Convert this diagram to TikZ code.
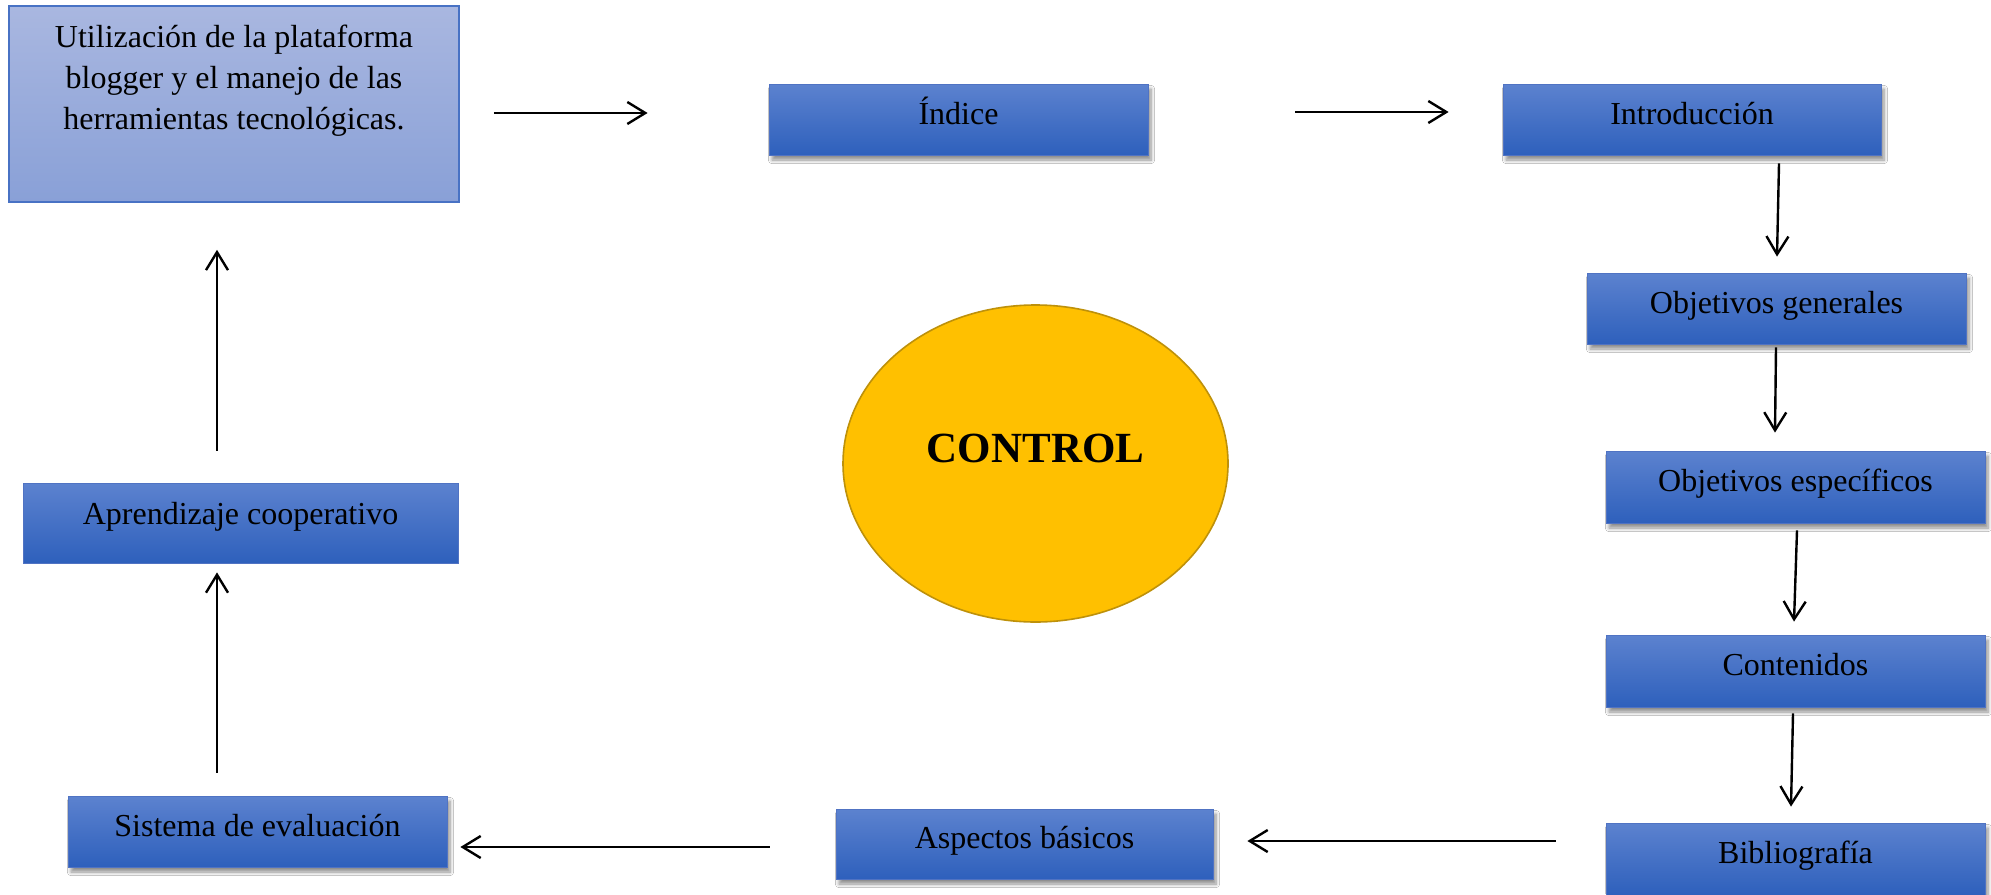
\documentclass[tikz,border=0pt]{standalone}
\usepackage{fontspec}
\setmainfont{Liberation Serif}
\usetikzlibrary{arrows.meta,calc,shapes.geometric,shadows.blur}
\definecolor{bluetop}{RGB}{92,130,207}
\definecolor{bluebot}{RGB}{46,96,188}
\definecolor{blueedge}{RGB}{80,115,195}
\definecolor{lighttop}{RGB}{169,183,224}
\definecolor{lightbot}{RGB}{137,160,215}
\definecolor{lightedge}{RGB}{72,114,196}
\definecolor{ctrlfill}{RGB}{255,192,0}
\definecolor{ctrledge}{RGB}{190,145,10}
\tikzset{
  x=0.5pt, y=-0.5pt,
  bluebox/.style={rectangle, draw=blueedge, line width=0.4pt,
    top color=bluetop, bottom color=bluebot,
    font=\fontsize{16}{20.5}\selectfont, text height=12pt, text depth=7.5pt,
    inner sep=0pt},
  withshadow/.style={blur shadow={shadow xshift=1.5pt, shadow yshift=-2.5pt,
    shadow blur steps=6, shadow opacity=45}},
  lightbox/.style={rectangle, draw=lightedge, line width=0.8pt,
    top color=lighttop, bottom color=lightbot,
    font=\fontsize{16}{20.5}\selectfont, align=center, inner sep=0pt},
  ctrlshape/.style={ellipse, draw=ctrledge, line width=0.8pt, fill=ctrlfill,
    font=\fontsize{21.5}{24}\selectfont\bfseries, inner sep=0pt,
    text height=15pt, text depth=16pt},
  arr/.style={-{Straight Barb[length=9pt,width=11pt,line width=1.2pt]}, line width=1.2pt, black}
}
\begin{document}
\begin{tikzpicture}
\useasboundingbox (0,0) rectangle (1991,894);
\fill[white] (0,0) rectangle (1991,894);

\node[lightbox, minimum width=225pt, minimum height=98pt] (tl) at (234,104)
  {Utilización de la plataforma\\blogger y el manejo de las\\herramientas tecnológicas.\\ \strut};
\node[bluebox, withshadow, minimum width=189.5pt, minimum height=35.5pt] (idx) at (958.5,119.5) {Índice};
\node[bluebox, withshadow, minimum width=189pt, minimum height=35.5pt] (intro) at (1692,119.5) {Introducción};
\node[bluebox, withshadow, minimum width=189.5pt, minimum height=35.5pt] (og) at (1776.5,308.5) {Objetivos generales};
\node[bluebox, withshadow, minimum width=189.5pt, minimum height=36pt] (oe) at (1795.5,487) {Objetivos específicos};
\node[bluebox, withshadow, minimum width=189.5pt, minimum height=36pt] (cont) at (1795.5,671) {Contenidos};
\node[bluebox, withshadow, minimum width=189.5pt, minimum height=36pt] (bib) at (1795.5,859) {Bibliografía};
\node[bluebox, withshadow, minimum width=188.5pt, minimum height=35pt] (asp) at (1024.5,844) {Aspectos básicos};
\node[bluebox, withshadow, minimum width=189.5pt, minimum height=35.5pt] (sis) at (257.5,831.5) {Sistema de evaluación};
\node[bluebox, minimum width=217.5pt, minimum height=40pt, text depth=10.8pt] (apr) at (240.5,523) {Aprendizaje cooperativo};
\node[ctrlshape, minimum width=192.5pt, minimum height=158.5pt] (ctrl) at (1035.5,463.5) {CONTROL};

\draw[arr] ($(tl.east)+(34,9)$) -- ($(idx.west)+(-121,-6.5)$);
\draw[arr] ($(idx.east)+(147,-7.5)$) -- ($(intro.west)+(-54,-7.5)$);
\draw[arr] ($(intro.south)+(87,8)$) -- ($(og.north)+(0.5,-16)$);
\draw[arr] ($(og.south)+(-0.5,3)$) -- ($(oe.north)+(-20.5,-18)$);
\draw[arr] ($(oe.south)+(1.5,7)$) -- ($(cont.north)+(-1.5,-13)$);
\draw[arr] ($(cont.south)+(-2.5,6)$) -- ($(bib.north)+(-4.5,-16)$);
\draw[arr] ($(bib.west)+(-50,-18)$) -- ($(asp.east)+(34,-3)$);
\draw[arr] ($(asp.west)+(-66,3)$) -- ($(sis.east)+(13,15.5)$);
\draw[arr] ($(sis.north)+(-40.5,-23)$) -- ($(apr.south)+(-23.5,9)$);
\draw[arr] ($(apr.north)+(-23.5,-32)$) -- ($(tl.south)+(-17,47)$);
\end{tikzpicture}
\end{document}
